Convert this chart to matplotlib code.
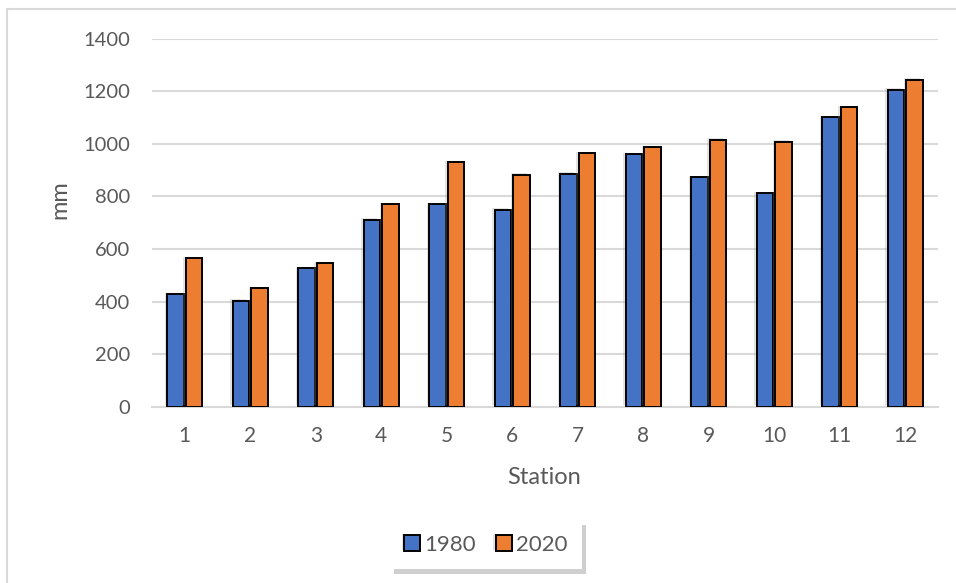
import matplotlib
matplotlib.use("Agg")
import matplotlib.pyplot as plt
import matplotlib.patheffects as pe
import numpy as np

plt.rcParams['font.family'] = ['Lato', 'DejaVu Sans']

stations = ['1', '2', '3', '4', '5', '6', '7', '8', '9', '10', '11', '12']
rain_1980 = [428, 403, 526, 712, 770, 750, 887, 960, 872, 813, 1102, 1206]
rain_2020 = [565, 450, 545, 770, 930, 882, 965, 988, 1016, 1008, 1140, 1244]
years = ['1980', '2020']

blue = '#4472C4'
orange = '#ED7D31'
grey_text = '#595959'
grid_col = '#D9D9D9'

W, H = 956, 583
fig = plt.figure(figsize=(W / 100, H / 100), dpi=100)

# axes box in pixel terms
x0, x1 = 152, 938
y_top, y_bot = 38.7, 406.7
ax = fig.add_axes([x0 / W, 1 - y_bot / H, (x1 - x0) / W, (y_bot - y_top) / H])

x = np.arange(len(stations))
width = 0.245
offset = 0.141
shadow = [pe.SimplePatchShadow(offset=(-2, 1), shadow_rgbFace='#909090', alpha=0.25), pe.Normal()]

b1 = ax.bar(x - offset, rain_1980, width, color=blue, edgecolor='black', linewidth=1.4,
            label=years[0], zorder=3)
b2 = ax.bar(x + offset, rain_2020, width, color=orange, edgecolor='black', linewidth=1.4,
            label=years[1], zorder=3)
for p in list(b1) + list(b2):
    p.set_path_effects(shadow)

ax.set_xlim(-0.5, len(stations) - 0.5)
ax.set_ylim(0, 1400)
ax.set_yticks(np.arange(0, 1401, 200))
ax.set_xticks(x)
ax.set_xticklabels(stations)

ax.yaxis.grid(True, color=grid_col, linewidth=1.5, zorder=0)
ax.set_axisbelow(True)
for s in ['top', 'right', 'left']:
    ax.spines[s].set_visible(False)
ax.spines['bottom'].set_color(grid_col)
ax.spines['bottom'].set_linewidth(1.5)
ax.tick_params(axis='both', length=0, colors=grey_text)
ax.tick_params(axis='y', labelsize=14.5, pad=16)
ax.tick_params(axis='x', labelsize=15, pad=14)

fig.text(544 / W, 1 - 477 / H, 'Station', ha='center', va='center', fontsize=17, color=grey_text)
fig.text(60 / W, 1 - 200 / H, 'mm', ha='center', va='center', rotation=90, fontsize=17, color=grey_text)

leg = fig.legend(handles=[b1, b2], labels=years, loc='center', bbox_to_anchor=(486 / W, 1 - 545 / H),
                 ncol=2, frameon=True, fancybox=False,
                 shadow={'color': '#c4c4c4', 'alpha': 0.8, 'ox': 3, 'oy': -3},
                 fontsize=16, handlelength=0.7, handleheight=0.7, handletextpad=0.2,
                 columnspacing=0.9, borderpad=0.65, labelcolor=grey_text)
leg.get_frame().set_edgecolor('white')
leg.get_frame().set_linewidth(0)

# outer chart frame (top and left edges)
fig.add_artist(plt.Line2D([7 / W, 1], [1 - 9 / H, 1 - 9 / H], color=grid_col, linewidth=1.5))
fig.add_artist(plt.Line2D([7 / W, 7 / W], [0, 1 - 9 / H], color=grid_col, linewidth=1.5))

fig.savefig('out.png', dpi=100)
